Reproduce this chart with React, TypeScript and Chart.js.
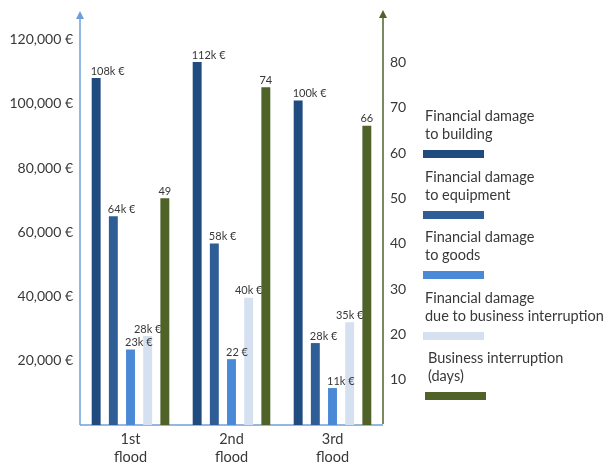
import React, { useEffect, useRef } from "react";
import { Chart, registerables } from "chart.js";

Chart.register(...registerables);

const categories = [["1st", "flood"], ["2nd", "flood"], ["3rd", "flood"]];

const seriesNames = [
  ["Financial damage", "to building"],
  ["Financial damage", "to equipment"],
  ["Financial damage", "to goods"],
  ["Financial damage", "due to business interruption"],
  ["Business interruption", "(days)"],
];

const buildingDamage = [108000, 113000, 101000];
const equipmentDamage = [65000, 56500, 25500];
const goodsDamage = [23500, 20500, 11500];
const interruptionDamage = [27700, 39600, 32000];
const interruptionDays = [50, 74.5, 66];

const buildingLabels = ["108k €", "112k €", "100k €"];
const equipmentLabels = ["64k €", "58k €", "28k €"];
const goodsLabels = ["23k €", "22 €", "11k €"];
const interruptionLabels = ["28k €", "40k €", "35k €"];
const daysLabels = ["49", "74", "66"];

const leftTicks = [20000, 40000, 60000, 80000, 100000, 120000];
const rightTicks = [10, 20, 30, 40, 50, 60, 70, 80];

const seriesColors = ["#1f4b7e", "#2f5d96", "#4a89d6", "#d5e1f0", "#4f6228"];
const leftAxisColor = "#6c9fd9";
const rightAxisColor = "#4f6228";
const textColor = "#383838";
const FONT = "Lato";

const allLabels = [buildingLabels, equipmentLabels, goodsLabels, interruptionLabels, daysLabels];

const axisPlugin = {
  id: "axisArrows",
  beforeDatasetsDraw(chart: any) {
    const { ctx, chartArea } = chart;
    const { left, right, top, bottom } = chartArea;
    ctx.save();
    ctx.strokeStyle = leftAxisColor;
    ctx.lineWidth = 1.5;
    ctx.beginPath();
    ctx.moveTo(left, bottom);
    ctx.lineTo(right, bottom);
    ctx.stroke();
    ctx.beginPath();
    ctx.moveTo(left, bottom);
    ctx.lineTo(left, top);
    ctx.stroke();
    ctx.fillStyle = leftAxisColor;
    ctx.beginPath();
    ctx.moveTo(left, top - 6);
    ctx.lineTo(left - 4, top + 2);
    ctx.lineTo(left + 4, top + 2);
    ctx.closePath();
    ctx.fill();
    ctx.strokeStyle = rightAxisColor;
    ctx.beginPath();
    ctx.moveTo(right, bottom - 1);
    ctx.lineTo(right, top);
    ctx.stroke();
    ctx.fillStyle = rightAxisColor;
    ctx.beginPath();
    ctx.moveTo(right, top - 7);
    ctx.lineTo(right - 4, top + 1);
    ctx.lineTo(right + 4, top + 1);
    ctx.closePath();
    ctx.fill();
    ctx.restore();
  },
  afterDatasetsDraw(chart: any) {
    const { ctx } = chart;
    ctx.save();
    ctx.font = `11px ${FONT}`;
    ctx.fillStyle = textColor;
    ctx.textBaseline = "middle";
    chart.data.datasets.forEach((_: any, i: number) => {
      const meta = chart.getDatasetMeta(i);
      meta.data.forEach((el: any, j: number) => {
        const text = allLabels[i][j];
        if (i < 3) {
          ctx.textAlign = "left";
          ctx.fillText(text, el.x - el.width / 2 - 1, el.y - 7);
        } else {
          ctx.textAlign = "center";
          ctx.fillText(text, el.x, el.y - 7);
        }
      });
    });
    ctx.restore();
  },
};

export default function App() {
  const canvasRef = useRef<HTMLCanvasElement | null>(null);

  useEffect(() => {
    if (!canvasRef.current) return;
    const values = [buildingDamage, equipmentDamage, goodsDamage, interruptionDamage, interruptionDays];
    const chart = new Chart(canvasRef.current, {
      type: "bar",
      data: {
        labels: categories,
        datasets: values.map((v, i) => ({
          label: seriesNames[i].join(" "),
          data: v,
          backgroundColor: seriesColors[i],
          yAxisID: i === 4 ? "y1" : "y",
          categoryPercentage: 0.85,
          barPercentage: 0.52,
        })),
      },
      options: {
        animation: false,
        responsive: false,
        maintainAspectRatio: false,
        layout: { padding: { top: 17, left: 0, right: 0, bottom: 0 } },
        plugins: { legend: { display: false }, tooltip: { enabled: false } },
        scales: {
          x: {
            grid: { display: false, drawTicks: false, tickLength: 0 },
            border: { display: false },
            ticks: {
              color: textColor,
              font: { family: FONT, size: 14.5, lineHeight: 1.25 },
              padding: 5,
              maxRotation: 0,
            },
            afterFit(scale: any) {
              scale.height = 40;
            },
          },
          y: {
            position: "left",
            min: 0,
            max: 127000,
            grid: { display: false, drawTicks: false, tickLength: 0 },
            border: { display: false },
            afterBuildTicks(scale: any) {
              scale.ticks = leftTicks.map((v) => ({ value: v }));
            },
            ticks: {
              color: textColor,
              font: { family: FONT, size: 14 },
              padding: 7,
              callback: (v: any) => Number(v).toLocaleString("en-US") + " €",
            },
            afterFit(scale: any) {
              scale.width = 80;
            },
          },
          y1: {
            position: "right",
            min: 0,
            max: 90,
            grid: { display: false, drawTicks: false, tickLength: 0 },
            border: { display: false },
            afterBuildTicks(scale: any) {
              scale.ticks = rightTicks.map((v) => ({ value: v }));
            },
            ticks: {
              color: textColor,
              font: { family: FONT, size: 14 },
              padding: 7,
            },
            afterFit(scale: any) {
              scale.width = 225;
            },
          },
        },
      },
      plugins: [axisPlugin],
    });
    return () => chart.destroy();
  }, []);

  return (
    <div style={{ position: "fixed", left: 0, top: 0, width: 608, height: 465, background: "#fff" }}>
      <canvas ref={canvasRef} width={608} height={465} style={{ position: "absolute", left: 0, top: 0 }} />
      {seriesNames.map((lines, i) => (
        <div
          key={i}
          style={{
            position: "absolute",
            left: i === 4 ? 428 : 425,
            top: 107 + i * 60.5,
            fontFamily: FONT,
            fontSize: 14.5,
            lineHeight: "18px",
            color: textColor,
            whiteSpace: "nowrap",
          }}
        >
          <div>{lines[0]}</div>
          <div>{lines[1]}</div>
          <div
            style={{
              marginTop: 7,
              marginLeft: i === 4 ? -3 : -2,
              width: 61,
              height: 8,
              background: seriesColors[i],
            }}
          />
        </div>
      ))}
    </div>
  );
}
